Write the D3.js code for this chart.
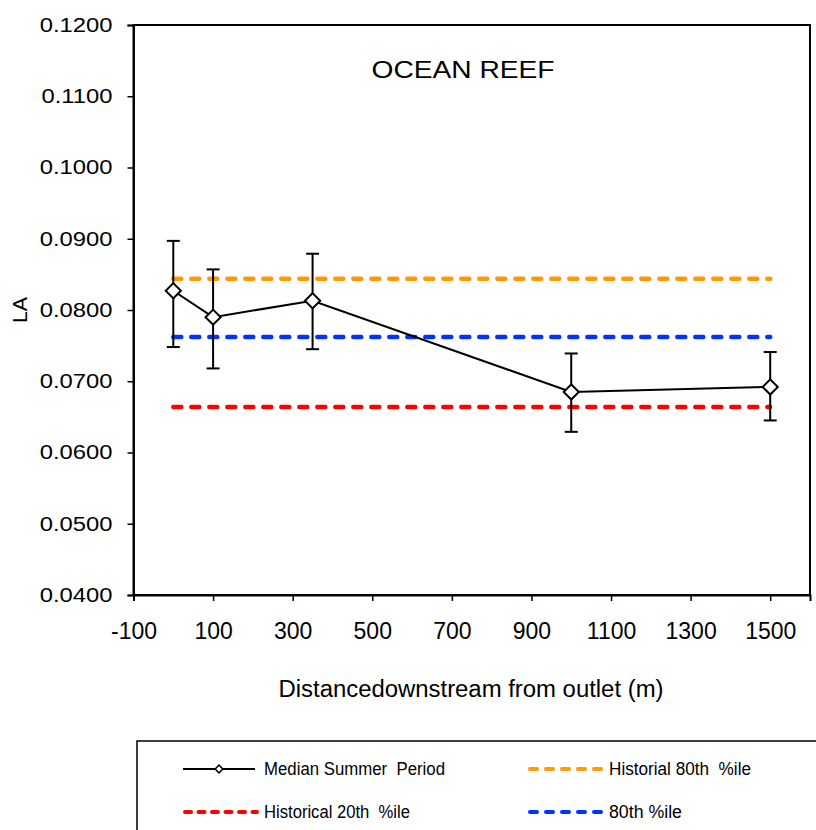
<!DOCTYPE html>
<html><head><meta charset="utf-8">
<script src="https://cdn.jsdelivr.net/npm/d3@7"></script>
<style>body{margin:0;background:#fff}svg{display:block;font-family:"Liberation Sans",Arial,sans-serif}text{white-space:pre}</style>
</head><body>
<svg id="c" width="816" height="830"></svg>
<script>
const distances = [0, 100, 350, 1000, 1500];
const medianValues = [0.0827, 0.0790, 0.0813, 0.0685, 0.0692];
const errUpper = [0.0897, 0.0857, 0.0879, 0.0739, 0.0741];
const errLower = [0.0748, 0.0718, 0.0745, 0.0629, 0.0645];
const refNames = ["Historial 80th  %ile", "80th %ile", "Historical 20th  %ile"];
const refValues = [0.0844, 0.0762, 0.0664];
const refColors = ["#FF9900", "#0033FF", "#FF0000"];
const xTicks = [-100, 100, 300, 500, 700, 900, 1100, 1300, 1500];
const yTicks = [0.04, 0.05, 0.06, 0.07, 0.08, 0.09, 0.10, 0.11, 0.12];

const NARROW = "'Liberation Sans Narrow', 'Arial Narrow', 'Liberation Sans', Arial, sans-serif";
const svg = d3.select("#c");
const L = 133.5, R = 810, T = 25, B = 595;
const x = d3.scaleLinear().domain([-100, 1600]).range([L, R]);
const y = d3.scaleLinear().domain([0.04, 0.12]).range([B, T]);

function stretch(sel, f) {
  sel.each(function () {
    const w = this.getComputedTextLength();
    d3.select(this).attr("textLength", w * f).attr("lengthAdjust", "spacingAndGlyphs");
  });
}

// plot box
svg.append("rect").attr("x", L).attr("y", T).attr("width", R - L).attr("height", B - T)
  .attr("fill", "none").attr("stroke", "#000").attr("stroke-width", 2);

// axes
const yAxis = svg.append("g").attr("transform", `translate(${L},0)`)
  .call(d3.axisLeft(y).tickValues(yTicks).tickFormat(d3.format(".4f")).tickSize(6).tickPadding(15));
yAxis.select(".domain").attr("stroke-width", 2);
yAxis.selectAll(".tick line").attr("stroke-width", 1.5);
yAxis.selectAll("text").attr("font-size", 19.5).attr("fill", "#000").attr("font-family", "Liberation Sans, Arial, sans-serif");
stretch(yAxis.selectAll("text"), 1.22);

const xAxis = svg.append("g").attr("transform", `translate(0,${B})`)
  .call(d3.axisBottom(x).tickValues(xTicks).tickFormat(d => String(d)).tickSize(6).tickPadding(22));
xAxis.select(".domain").attr("stroke-width", 2);
xAxis.selectAll(".tick line").attr("stroke-width", 1.5);
xAxis.selectAll("text").attr("font-size", 23).attr("fill", "#000").attr("font-family", NARROW);
xAxis.selectAll("text").each(function () {
  const w = this.getComputedTextLength();
  d3.select(this).attr("textLength", w < 30 ? w : w).attr("lengthAdjust", "spacingAndGlyphs");
});

// axis titles
svg.append("text").attr("x", 471).attr("y", 697).attr("text-anchor", "middle")
  .attr("font-size", 23).attr("font-family", NARROW).attr("textLength", 385).attr("lengthAdjust", "spacingAndGlyphs")
  .text("Distancedownstream from outlet (m)");
svg.append("text").attr("transform", "translate(27,310) rotate(-90)").attr("text-anchor", "middle")
  .attr("font-size", 20).attr("textLength", 26).attr("lengthAdjust", "spacingAndGlyphs").text("LA");

// chart title
svg.append("text").attr("x", 463).attr("y", 78).attr("text-anchor", "middle")
  .attr("font-size", 24).attr("textLength", 183).attr("lengthAdjust", "spacingAndGlyphs").text("OCEAN REEF");

// reference lines
refValues.forEach((v, i) => {
  svg.append("line").attr("x1", x(distances[0])).attr("x2", x(distances[distances.length - 1]))
    .attr("y1", y(v)).attr("y2", y(v))
    .attr("stroke", refColors[i]).attr("stroke-width", 4.5)
    .attr("stroke-dasharray", "8,10").attr("stroke-linecap", "round");
});

// error bars
const cap = 6.5;
distances.forEach((d, i) => {
  const g = svg.append("g").attr("stroke", "#000").attr("stroke-width", 2);
  g.append("line").attr("x1", x(d)).attr("x2", x(d)).attr("y1", y(errUpper[i])).attr("y2", y(errLower[i]));
  g.append("line").attr("x1", x(d) - cap).attr("x2", x(d) + cap).attr("y1", y(errUpper[i])).attr("y2", y(errUpper[i]));
  g.append("line").attr("x1", x(d) - cap).attr("x2", x(d) + cap).attr("y1", y(errLower[i])).attr("y2", y(errLower[i]));
});

// median line
const line = d3.line().x((d, i) => x(distances[i])).y(d => y(d));
svg.append("path").datum(medianValues).attr("d", line)
  .attr("fill", "none").attr("stroke", "#000").attr("stroke-width", 2);

// diamonds
const diamond = d3.symbol().type(d3.symbolSquare).size(115);
svg.selectAll(".mk").data(medianValues).enter().append("path")
  .attr("d", diamond)
  .attr("transform", (d, i) => `translate(${x(distances[i])},${y(d)}) rotate(45)`)
  .attr("fill", "#fff").attr("stroke", "#000").attr("stroke-width", 2);

// legend
const lg = svg.append("g");
lg.append("rect").attr("x", 137).attr("y", 741).attr("width", 700).attr("height", 120)
  .attr("fill", "#fff").attr("stroke", "#000").attr("stroke-width", 1.5);
const legendItems = [
  {name: "Median Summer  Period", type: "marker", color: "#000", lx: 183, ly: 769, w: 181, dash: null},
  {name: refNames[0], type: "dash", color: refColors[0], lx: 528, ly: 769, w: 142, dash: "7,9"},
  {name: refNames[2], type: "dash", color: refColors[2], lx: 183, ly: 812, w: 146, dash: "6,7.5"},
  {name: refNames[1], type: "dash", color: refColors[1], lx: 528, ly: 812, w: 73, dash: "7,9"}
];
legendItems.forEach(it => {
  if (it.type === "marker") {
    lg.append("line").attr("x1", it.lx).attr("x2", it.lx + 72).attr("y1", it.ly).attr("y2", it.ly)
      .attr("stroke", "#000").attr("stroke-width", 2);
    lg.append("path").attr("d", d3.symbol().type(d3.symbolSquare).size(30))
      .attr("transform", `translate(${it.lx + 36},${it.ly}) rotate(45)`)
      .attr("fill", "#fff").attr("stroke", "#000").attr("stroke-width", 1.5);
  } else {
    lg.append("line").attr("x1", it.lx + 2).attr("x2", it.lx + 74).attr("y1", it.ly).attr("y2", it.ly)
      .attr("stroke", it.color).attr("stroke-width", 4)
      .attr("stroke-dasharray", it.dash).attr("stroke-linecap", "round");
  }
  lg.append("text").attr("x", it.lx + 81).attr("y", it.ly + 6).attr("font-size", 17.5).attr("font-family", NARROW)
    .attr("textLength", it.w).attr("lengthAdjust", "spacingAndGlyphs").text(it.name);
});
</script>
</body></html>
